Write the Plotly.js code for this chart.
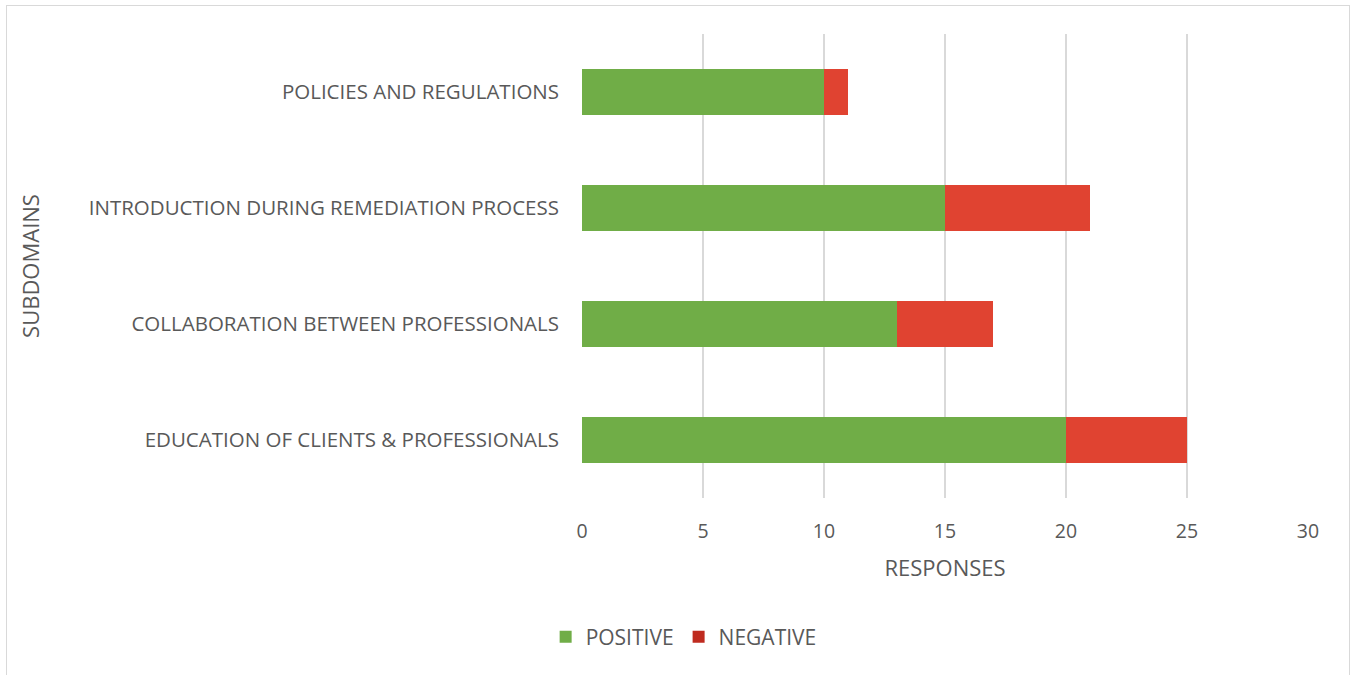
<!DOCTYPE html>
<html>
<head>
<meta charset="utf-8">
<script src="https://cdn.plot.ly/plotly-3.0.1.min.js"></script>
<style>
  html, body { margin: 0; padding: 0; background: #fff; }
  #wrap { position: relative; width: 1354px; height: 675px; overflow: hidden; }
  #chart { position: absolute; left: 0; top: 0; width: 1354px; height: 675px; }
  #frame { position: absolute; left: 6px; top: 5px; width: 1342px; height: 700px;
           border: 1.5px solid #D9D9D9; pointer-events: none; }
</style>
</head>
<body>
<div id="wrap">
  <div id="chart"></div>
  <div id="frame"></div>
</div>
<script>
const categories = [
  "EDUCATION OF CLIENTS & PROFESSIONALS",
  "COLLABORATION BETWEEN PROFESSIONALS",
  "INTRODUCTION DURING REMEDIATION PROCESS",
  "POLICIES AND REGULATIONS"
];
const positive = [20, 13, 15, 10];
const negative = [5, 4, 6, 1];
const xTicks = [0, 5, 10, 15, 20, 25, 30];

const FONT = "Open Sans, Liberation Sans, sans-serif";
const GREY = "#595959";

const traces = [
  { type: "bar", orientation: "h", name: "POSITIVE", y: categories, x: positive,
    marker: { color: "#70AD47" }, showlegend: false, hoverinfo: "x+y" },
  { type: "bar", orientation: "h", name: "NEGATIVE", y: categories, x: negative,
    marker: { color: "#E04331" }, showlegend: false, hoverinfo: "x+y" },
  { type: "bar", orientation: "h", name: "POSITIVE", y: [null], x: [null],
    marker: { color: "#70AD47" }, showlegend: true },
  { type: "bar", orientation: "h", name: "NEGATIVE", y: [null], x: [null],
    marker: { color: "#BF2B1F" }, showlegend: true }
];

const layout = {
  width: 1354, height: 675,
  paper_bgcolor: "#ffffff", plot_bgcolor: "#ffffff",
  barmode: "stack", bargap: 0.6,
  margin: { l: 582, r: 46, t: 34, b: 177 },
  font: { family: FONT, color: GREY, size: 20 },
  xaxis: {
    range: [0, 30], tickvals: xTicks, ticktext: xTicks.map(String),
    showgrid: true, gridcolor: "#D9D9D9", gridwidth: 1.3,
    zeroline: false, showline: false, ticks: "",
    tickfont: { size: 19.5, color: GREY, family: FONT },
    ticklabelstandoff: 19,
    title: { text: "RESPONSES", font: { size: 22, color: GREY, family: FONT }, standoff: 18 },
    fixedrange: true
  },
  yaxis: {
    type: "category", categoryorder: "array", categoryarray: categories,
    range: [-0.5, 3.5],
    showgrid: false, zeroline: false, showline: false, ticks: "",
    tickfont: { size: 20.5, color: GREY, family: FONT },
    ticklabelstandoff: 22,
    title: { text: "SUBDOMAINS", font: { size: 22, color: GREY, family: FONT }, standoff: 43 },
    automargin: false,
    fixedrange: true
  },
  showlegend: true,
  legend: {
    orientation: "h", x: 0.14, xanchor: "center", y: -0.30, yanchor: "middle",
    font: { size: 21, color: GREY, family: FONT },
    traceorder: "normal", itemwidth: 30, bgcolor: "rgba(0,0,0,0)"
  }
};

Plotly.newPlot("chart", traces, layout, { displayModeBar: false, staticPlot: true });
</script>
</body>
</html>
